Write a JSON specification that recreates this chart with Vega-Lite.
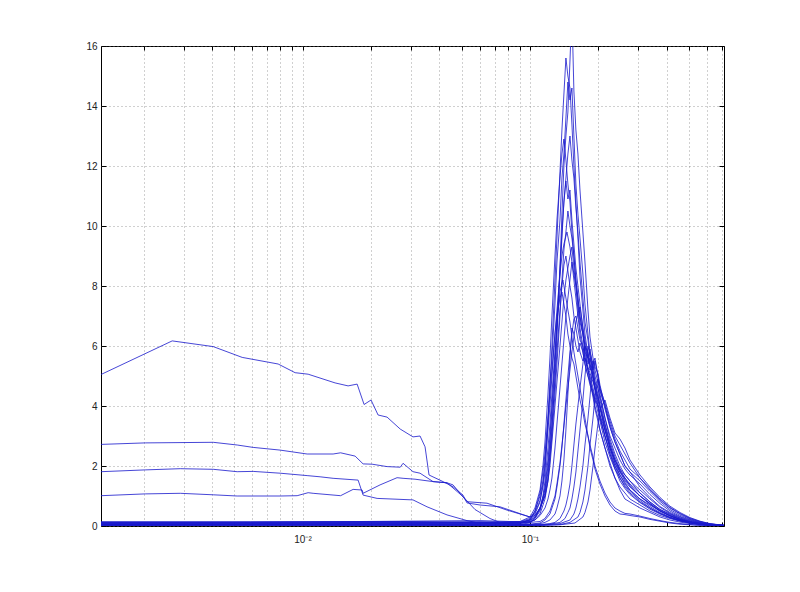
{
"$schema":"https://vega.github.io/schema/vega-lite/v6.json",
"width":623,"height":480,
"autosize":{"type":"none"},
"padding":{"left":101,"top":46,"right":76,"bottom":66},
"background":"white",
"config":{"view":{"stroke":"#000","strokeWidth":1},
"axis":{"labelFont":"Liberation Sans","labelFontSize":10,"labelColor":"#222","domain":false,"tickColor":"#000","tickWidth":1,"gridColor":"#777","gridDash":[1,3],"gridOpacity":0.7,"gridWidth":1}},
"data":{"values":[
{"s":1,"x":0.0013,"y":0.12},{"s":1,"x":0.00589,"y":0.13},{"s":1,"x":0.0269,"y":0.14},{"s":1,"x":0.0603,"y":0.1},{"s":1,"x":0.0904,"y":0.12},{"s":1,"x":0.1,"y":0.2},{"s":1,"x":0.1052,"y":0.35},{"s":1,"x":0.1107,"y":0.6},{"s":1,"x":0.1164,"y":1.0},{"s":1,"x":0.12,"y":1.6},{"s":1,"x":0.1249,"y":3.2},{"s":1,"x":0.1288,"y":5.0},{"s":1,"x":0.1314,"y":6.3},{"s":1,"x":0.1355,"y":8.6},{"s":1,"x":0.1382,"y":10.4},{"s":1,"x":0.141,"y":12.0},{"s":1,"x":0.1439,"y":13.0},{"s":1,"x":0.1468,"y":13.8},{"s":1,"x":0.1499,"y":15.5},{"s":1,"x":0.1529,"y":17.2},{"s":1,"x":0.156,"y":14.5},{"s":1,"x":0.1592,"y":13.2},{"s":1,"x":0.1625,"y":12.4},{"s":1,"x":0.1659,"y":11.2},{"s":1,"x":0.1709,"y":9.8},{"s":1,"x":0.1745,"y":8.8},{"s":1,"x":0.1799,"y":7.2},{"s":1,"x":0.1836,"y":6.3},{"s":1,"x":0.1893,"y":5.6},{"s":1,"x":0.1931,"y":5.3},{"s":1,"x":0.199,"y":5.1},{"s":1,"x":0.2031,"y":4.7},{"s":1,"x":0.2137,"y":4.0},{"s":1,"x":0.2248,"y":3.3},{"s":1,"x":0.2364,"y":2.8},{"s":1,"x":0.2487,"y":2.4},{"s":1,"x":0.2616,"y":2.0},{"s":1,"x":0.2752,"y":1.8},{"s":1,"x":0.3046,"y":1.3},{"s":1,"x":0.337,"y":0.95},{"s":1,"x":0.373,"y":0.65},{"s":1,"x":0.4127,"y":0.45},{"s":1,"x":0.4567,"y":0.3},{"s":1,"x":0.5054,"y":0.18},{"s":1,"x":0.5592,"y":0.1},{"s":1,"x":0.6188,"y":0.05},{"s":1,"x":0.713,"y":0.02},
{"s":2,"x":0.0013,"y":0.1},{"s":2,"x":0.00589,"y":0.09},{"s":2,"x":0.0269,"y":0.11},{"s":2,"x":0.0603,"y":0.13},{"s":2,"x":0.0904,"y":0.1},{"s":2,"x":0.1,"y":0.22},{"s":2,"x":0.1052,"y":0.45},{"s":2,"x":0.1107,"y":0.85},{"s":2,"x":0.114,"y":1.3},{"s":2,"x":0.1164,"y":1.8},{"s":2,"x":0.12,"y":3.4},{"s":2,"x":0.1224,"y":4.6},{"s":2,"x":0.1249,"y":6.0},{"s":2,"x":0.1288,"y":8.2},{"s":2,"x":0.1314,"y":9.6},{"s":2,"x":0.1355,"y":11.8},{"s":2,"x":0.1382,"y":13.2},{"s":2,"x":0.141,"y":14.4},{"s":2,"x":0.1439,"y":15.6},{"s":2,"x":0.1468,"y":15.0},{"s":2,"x":0.1499,"y":14.6},{"s":2,"x":0.1529,"y":13.4},{"s":2,"x":0.156,"y":12.0},{"s":2,"x":0.1592,"y":10.8},{"s":2,"x":0.1625,"y":9.6},{"s":2,"x":0.1659,"y":8.3},{"s":2,"x":0.1709,"y":7.2},{"s":2,"x":0.1745,"y":6.4},{"s":2,"x":0.1799,"y":5.7},{"s":2,"x":0.1836,"y":5.3},{"s":2,"x":0.1893,"y":4.9},{"s":2,"x":0.1931,"y":4.5},{"s":2,"x":0.199,"y":4.0},{"s":2,"x":0.2031,"y":3.6},{"s":2,"x":0.2137,"y":3.0},{"s":2,"x":0.2248,"y":2.4},{"s":2,"x":0.2364,"y":2.0},{"s":2,"x":0.2487,"y":1.7},{"s":2,"x":0.2752,"y":1.2},{"s":2,"x":0.3046,"y":0.9},{"s":2,"x":0.337,"y":0.7},{"s":2,"x":0.373,"y":0.5},{"s":2,"x":0.4127,"y":0.35},{"s":2,"x":0.4567,"y":0.22},{"s":2,"x":0.5054,"y":0.13},{"s":2,"x":0.5592,"y":0.08},{"s":2,"x":0.6188,"y":0.04},{"s":2,"x":0.713,"y":0.01},
{"s":3,"x":0.0013,"y":0.08},{"s":3,"x":0.00589,"y":0.08},{"s":3,"x":0.0269,"y":0.1},{"s":3,"x":0.0603,"y":0.12},{"s":3,"x":0.0904,"y":0.14},{"s":3,"x":0.1,"y":0.25},{"s":3,"x":0.1052,"y":0.5},{"s":3,"x":0.1107,"y":1.0},{"s":3,"x":0.114,"y":1.5},{"s":3,"x":0.1164,"y":2.2},{"s":3,"x":0.12,"y":3.6},{"s":3,"x":0.1224,"y":4.8},{"s":3,"x":0.1249,"y":5.6},{"s":3,"x":0.1288,"y":7.4},{"s":3,"x":0.1314,"y":8.8},{"s":3,"x":0.1355,"y":10.2},{"s":3,"x":0.1382,"y":11.6},{"s":3,"x":0.141,"y":12.4},{"s":3,"x":0.1439,"y":13.6},{"s":3,"x":0.1468,"y":14.8},{"s":3,"x":0.1499,"y":14.2},{"s":3,"x":0.1529,"y":14.6},{"s":3,"x":0.156,"y":13.0},{"s":3,"x":0.1592,"y":11.4},{"s":3,"x":0.1625,"y":10.4},{"s":3,"x":0.1659,"y":9.6},{"s":3,"x":0.1709,"y":8.4},{"s":3,"x":0.1745,"y":7.4},{"s":3,"x":0.1799,"y":6.4},{"s":3,"x":0.1836,"y":5.8},{"s":3,"x":0.1893,"y":5.4},{"s":3,"x":0.1931,"y":5.6},{"s":3,"x":0.199,"y":5.0},{"s":3,"x":0.2031,"y":4.4},{"s":3,"x":0.2137,"y":3.6},{"s":3,"x":0.2248,"y":2.9},{"s":3,"x":0.2364,"y":2.4},{"s":3,"x":0.2487,"y":2.0},{"s":3,"x":0.2616,"y":1.7},{"s":3,"x":0.2752,"y":1.5},{"s":3,"x":0.3046,"y":1.1},{"s":3,"x":0.337,"y":0.8},{"s":3,"x":0.373,"y":0.55},{"s":3,"x":0.4127,"y":0.4},{"s":3,"x":0.4567,"y":0.26},{"s":3,"x":0.5054,"y":0.15},{"s":3,"x":0.5592,"y":0.09},{"s":3,"x":0.6188,"y":0.05},{"s":3,"x":0.713,"y":0.02},
{"s":4,"x":0.0013,"y":0.06},{"s":4,"x":0.00589,"y":0.07},{"s":4,"x":0.0269,"y":0.08},{"s":4,"x":0.0603,"y":0.09},{"s":4,"x":0.0904,"y":0.1},{"s":4,"x":0.1,"y":0.15},{"s":4,"x":0.1052,"y":0.3},{"s":4,"x":0.1107,"y":0.6},{"s":4,"x":0.1164,"y":1.2},{"s":4,"x":0.12,"y":2.0},{"s":4,"x":0.1224,"y":2.8},{"s":4,"x":0.1249,"y":3.8},{"s":4,"x":0.1288,"y":5.4},{"s":4,"x":0.1314,"y":6.6},{"s":4,"x":0.1355,"y":8.4},{"s":4,"x":0.1382,"y":9.6},{"s":4,"x":0.141,"y":10.8},{"s":4,"x":0.1439,"y":11.6},{"s":4,"x":0.1468,"y":12.4},{"s":4,"x":0.1499,"y":13.0},{"s":4,"x":0.1529,"y":12.2},{"s":4,"x":0.156,"y":11.6},{"s":4,"x":0.1592,"y":10.6},{"s":4,"x":0.1625,"y":9.8},{"s":4,"x":0.1659,"y":8.8},{"s":4,"x":0.1709,"y":7.6},{"s":4,"x":0.1745,"y":6.8},{"s":4,"x":0.1799,"y":6.2},{"s":4,"x":0.1836,"y":5.6},{"s":4,"x":0.1893,"y":5.2},{"s":4,"x":0.1931,"y":4.8},{"s":4,"x":0.199,"y":4.6},{"s":4,"x":0.2031,"y":4.2},{"s":4,"x":0.2137,"y":3.4},{"s":4,"x":0.2248,"y":2.7},{"s":4,"x":0.2364,"y":2.2},{"s":4,"x":0.2487,"y":1.8},{"s":4,"x":0.2616,"y":1.6},{"s":4,"x":0.2752,"y":1.35},{"s":4,"x":0.3046,"y":1.0},{"s":4,"x":0.337,"y":0.75},{"s":4,"x":0.373,"y":0.5},{"s":4,"x":0.4127,"y":0.33},{"s":4,"x":0.4567,"y":0.2},{"s":4,"x":0.5054,"y":0.12},{"s":4,"x":0.5592,"y":0.07},{"s":4,"x":0.6188,"y":0.04},{"s":4,"x":0.713,"y":0.01},
{"s":5,"x":0.0013,"y":0.11},{"s":5,"x":0.00589,"y":0.12},{"s":5,"x":0.0269,"y":0.13},{"s":5,"x":0.0603,"y":0.11},{"s":5,"x":0.0904,"y":0.15},{"s":5,"x":0.1,"y":0.3},{"s":5,"x":0.1052,"y":0.6},{"s":5,"x":0.1107,"y":1.2},{"s":5,"x":0.114,"y":2.0},{"s":5,"x":0.1164,"y":2.8},{"s":5,"x":0.12,"y":4.4},{"s":5,"x":0.1224,"y":5.6},{"s":5,"x":0.1249,"y":7.0},{"s":5,"x":0.1288,"y":9.0},{"s":5,"x":0.1314,"y":10.2},{"s":5,"x":0.1355,"y":11.6},{"s":5,"x":0.1382,"y":12.4},{"s":5,"x":0.141,"y":12.9},{"s":5,"x":0.1439,"y":12.2},{"s":5,"x":0.1468,"y":11.4},{"s":5,"x":0.1499,"y":10.8},{"s":5,"x":0.1529,"y":9.8},{"s":5,"x":0.156,"y":9.0},{"s":5,"x":0.1592,"y":8.2},{"s":5,"x":0.1625,"y":7.6},{"s":5,"x":0.1659,"y":7.0},{"s":5,"x":0.1709,"y":6.4},{"s":5,"x":0.1745,"y":5.8},{"s":5,"x":0.1799,"y":5.2},{"s":5,"x":0.1836,"y":4.9},{"s":5,"x":0.1893,"y":4.4},{"s":5,"x":0.1931,"y":4.0},{"s":5,"x":0.199,"y":3.6},{"s":5,"x":0.2031,"y":3.2},{"s":5,"x":0.2137,"y":2.6},{"s":5,"x":0.2248,"y":2.1},{"s":5,"x":0.2364,"y":1.6},{"s":5,"x":0.2487,"y":1.3},{"s":5,"x":0.2616,"y":1.1},{"s":5,"x":0.2752,"y":0.9},{"s":5,"x":0.3046,"y":0.7},{"s":5,"x":0.337,"y":0.5},{"s":5,"x":0.373,"y":0.35},{"s":5,"x":0.4127,"y":0.25},{"s":5,"x":0.4567,"y":0.16},{"s":5,"x":0.5054,"y":0.1},{"s":5,"x":0.5592,"y":0.06},{"s":5,"x":0.6188,"y":0.03},{"s":5,"x":0.713,"y":0.01},
{"s":6,"x":0.0013,"y":0.05},{"s":6,"x":0.00589,"y":0.05},{"s":6,"x":0.0269,"y":0.06},{"s":6,"x":0.0603,"y":0.08},{"s":6,"x":0.0904,"y":0.09},{"s":6,"x":0.1,"y":0.12},{"s":6,"x":0.1052,"y":0.25},{"s":6,"x":0.1107,"y":0.5},{"s":6,"x":0.114,"y":0.9},{"s":6,"x":0.1164,"y":1.3},{"s":6,"x":0.12,"y":2.2},{"s":6,"x":0.1224,"y":3.0},{"s":6,"x":0.1249,"y":4.0},{"s":6,"x":0.1288,"y":5.6},{"s":6,"x":0.1314,"y":6.8},{"s":6,"x":0.1355,"y":8.6},{"s":6,"x":0.1382,"y":9.8},{"s":6,"x":0.141,"y":10.8},{"s":6,"x":0.1439,"y":11.5},{"s":6,"x":0.1468,"y":10.9},{"s":6,"x":0.1499,"y":11.2},{"s":6,"x":0.1529,"y":10.2},{"s":6,"x":0.156,"y":9.4},{"s":6,"x":0.1592,"y":8.6},{"s":6,"x":0.1625,"y":8.0},{"s":6,"x":0.1659,"y":7.4},{"s":6,"x":0.1709,"y":6.6},{"s":6,"x":0.1745,"y":6.2},{"s":6,"x":0.1799,"y":5.6},{"s":6,"x":0.1836,"y":5.4},{"s":6,"x":0.1893,"y":5.0},{"s":6,"x":0.1931,"y":4.6},{"s":6,"x":0.199,"y":4.1},{"s":6,"x":0.2031,"y":3.7},{"s":6,"x":0.2137,"y":3.0},{"s":6,"x":0.2248,"y":2.4},{"s":6,"x":0.2364,"y":1.9},{"s":6,"x":0.2487,"y":1.6},{"s":6,"x":0.2616,"y":1.3},{"s":6,"x":0.2752,"y":1.1},{"s":6,"x":0.3046,"y":0.8},{"s":6,"x":0.337,"y":0.6},{"s":6,"x":0.373,"y":0.42},{"s":6,"x":0.4127,"y":0.28},{"s":6,"x":0.4567,"y":0.18},{"s":6,"x":0.5054,"y":0.11},{"s":6,"x":0.5592,"y":0.06},{"s":6,"x":0.6188,"y":0.03},{"s":6,"x":0.713,"y":0.01},
{"s":7,"x":0.0013,"y":0.14},{"s":7,"x":0.00589,"y":0.14},{"s":7,"x":0.0269,"y":0.15},{"s":7,"x":0.0603,"y":0.12},{"s":7,"x":0.0904,"y":0.1},{"s":7,"x":0.1,"y":0.14},{"s":7,"x":0.1052,"y":0.2},{"s":7,"x":0.1107,"y":0.4},{"s":7,"x":0.1164,"y":0.9},{"s":7,"x":0.12,"y":1.5},{"s":7,"x":0.1224,"y":2.2},{"s":7,"x":0.1249,"y":3.0},{"s":7,"x":0.1288,"y":4.4},{"s":7,"x":0.1314,"y":5.4},{"s":7,"x":0.1355,"y":7.0},{"s":7,"x":0.1382,"y":8.2},{"s":7,"x":0.141,"y":9.2},{"s":7,"x":0.1439,"y":9.8},{"s":7,"x":0.1468,"y":10.5},{"s":7,"x":0.1499,"y":10.0},{"s":7,"x":0.1529,"y":9.6},{"s":7,"x":0.156,"y":9.0},{"s":7,"x":0.1592,"y":8.2},{"s":7,"x":0.1625,"y":7.6},{"s":7,"x":0.1659,"y":7.0},{"s":7,"x":0.1709,"y":6.4},{"s":7,"x":0.1745,"y":5.8},{"s":7,"x":0.1799,"y":5.6},{"s":7,"x":0.1836,"y":5.9},{"s":7,"x":0.1893,"y":5.2},{"s":7,"x":0.1931,"y":4.8},{"s":7,"x":0.199,"y":4.4},{"s":7,"x":0.2031,"y":4.0},{"s":7,"x":0.2137,"y":3.2},{"s":7,"x":0.2248,"y":2.6},{"s":7,"x":0.2364,"y":2.1},{"s":7,"x":0.2487,"y":1.8},{"s":7,"x":0.2616,"y":1.5},{"s":7,"x":0.2752,"y":1.3},{"s":7,"x":0.3046,"y":1.0},{"s":7,"x":0.337,"y":0.72},{"s":7,"x":0.373,"y":0.5},{"s":7,"x":0.4127,"y":0.34},{"s":7,"x":0.4567,"y":0.22},{"s":7,"x":0.5054,"y":0.13},{"s":7,"x":0.5592,"y":0.07},{"s":7,"x":0.6188,"y":0.04},{"s":7,"x":0.713,"y":0.01},
{"s":8,"x":0.0013,"y":5.05},{"s":8,"x":0.002673,"y":6.17},{"s":8,"x":0.004049,"y":5.98},{"s":8,"x":0.005428,"y":5.62},{"s":8,"x":0.007812,"y":5.4},{"s":8,"x":0.009279,"y":5.11},{"s":8,"x":0.010583,"y":5.06},{"s":8,"x":0.0139,"y":4.77},{"s":8,"x":0.01586,"y":4.67},{"s":8,"x":0.01738,"y":4.73},{"s":8,"x":0.01865,"y":4.05},{"s":8,"x":0.02001,"y":4.2},{"s":8,"x":0.02149,"y":3.7},{"s":8,"x":0.02353,"y":3.63},{"s":8,"x":0.0269,"y":3.23},{"s":8,"x":0.0306,"y":2.97},{"s":8,"x":0.03286,"y":3.0},{"s":8,"x":0.03457,"y":2.64},{"s":8,"x":0.03599,"y":1.7},{"s":8,"x":0.04147,"y":1.48},{"s":8,"x":0.04589,"y":1.31},{"s":8,"x":0.05077,"y":1.03},{"s":8,"x":0.05285,"y":0.77},{"s":8,"x":0.0603,"y":0.7},{"s":8,"x":0.0738,"y":0.64},{"s":8,"x":0.1,"y":0.3},{"s":8,"x":0.1052,"y":0.4},{"s":8,"x":0.1107,"y":0.8},{"s":8,"x":0.114,"y":1.4},{"s":8,"x":0.1164,"y":2.0},{"s":8,"x":0.12,"y":3.2},{"s":8,"x":0.1224,"y":4.0},{"s":8,"x":0.1249,"y":5.0},{"s":8,"x":0.1288,"y":6.4},{"s":8,"x":0.1314,"y":7.2},{"s":8,"x":0.1355,"y":8.4},{"s":8,"x":0.1382,"y":9.0},{"s":8,"x":0.141,"y":9.4},{"s":8,"x":0.1454,"y":9.8},{"s":8,"x":0.1499,"y":9.3},{"s":8,"x":0.1529,"y":8.8},{"s":8,"x":0.156,"y":8.2},{"s":8,"x":0.1592,"y":7.6},{"s":8,"x":0.1625,"y":7.0},{"s":8,"x":0.1659,"y":6.4},{"s":8,"x":0.1709,"y":5.8},{"s":8,"x":0.1745,"y":5.4},{"s":8,"x":0.1799,"y":5.0},{"s":8,"x":0.1836,"y":4.8},{"s":8,"x":0.1893,"y":4.3},{"s":8,"x":0.1931,"y":3.9},{"s":8,"x":0.199,"y":3.5},{"s":8,"x":0.2031,"y":3.2},{"s":8,"x":0.2137,"y":2.6},{"s":8,"x":0.2248,"y":2.0},{"s":8,"x":0.2364,"y":1.6},{"s":8,"x":0.2487,"y":1.2},{"s":8,"x":0.2616,"y":0.9},{"s":8,"x":0.2752,"y":0.8},{"s":8,"x":0.3046,"y":0.6},{"s":8,"x":0.337,"y":0.45},{"s":8,"x":0.373,"y":0.3},{"s":8,"x":0.4127,"y":0.2},{"s":8,"x":0.4567,"y":0.13},{"s":8,"x":0.5054,"y":0.08},{"s":8,"x":0.5592,"y":0.05},{"s":8,"x":0.6188,"y":0.03},{"s":8,"x":0.713,"y":0.01},
{"s":9,"x":0.0013,"y":2.72},{"s":9,"x":0.002034,"y":2.77},{"s":9,"x":0.004049,"y":2.79},{"s":9,"x":0.00516,"y":2.7},{"s":9,"x":0.006066,"y":2.62},{"s":9,"x":0.00797,"y":2.53},{"s":9,"x":0.010476,"y":2.4},{"s":9,"x":0.013628,"y":2.4},{"s":9,"x":0.0147,"y":2.44},{"s":9,"x":0.017027,"y":2.33},{"s":9,"x":0.018464,"y":2.07},{"s":9,"x":0.020221,"y":2.06},{"s":9,"x":0.02353,"y":1.98},{"s":9,"x":0.0269,"y":1.96},{"s":9,"x":0.027669,"y":2.09},{"s":9,"x":0.0306,"y":1.81},{"s":9,"x":0.03286,"y":1.76},{"s":9,"x":0.037487,"y":1.48},{"s":9,"x":0.043178,"y":1.44},{"s":9,"x":0.04589,"y":1.37},{"s":9,"x":0.0493,"y":1.09},{"s":9,"x":0.05285,"y":0.81},{"s":9,"x":0.064728,"y":0.76},{"s":9,"x":0.079227,"y":0.53},{"s":9,"x":0.1,"y":0.3},{"s":9,"x":0.1052,"y":0.35},{"s":9,"x":0.1107,"y":0.6},{"s":9,"x":0.1164,"y":1.0},{"s":9,"x":0.12,"y":1.5},{"s":9,"x":0.1224,"y":2.0},{"s":9,"x":0.1249,"y":2.8},{"s":9,"x":0.1288,"y":4.0},{"s":9,"x":0.1314,"y":4.8},{"s":9,"x":0.1355,"y":6.0},{"s":9,"x":0.1382,"y":6.8},{"s":9,"x":0.141,"y":7.6},{"s":9,"x":0.1439,"y":8.2},{"s":9,"x":0.1468,"y":8.6},{"s":9,"x":0.1499,"y":9.0},{"s":9,"x":0.1529,"y":9.3},{"s":9,"x":0.156,"y":8.6},{"s":9,"x":0.1592,"y":8.0},{"s":9,"x":0.1625,"y":7.4},{"s":9,"x":0.1659,"y":6.8},{"s":9,"x":0.1709,"y":6.4},{"s":9,"x":0.1745,"y":6.0},{"s":9,"x":0.1799,"y":5.8},{"s":9,"x":0.1836,"y":5.4},{"s":9,"x":0.1893,"y":5.0},{"s":9,"x":0.1931,"y":4.6},{"s":9,"x":0.199,"y":4.2},{"s":9,"x":0.2031,"y":3.9},{"s":9,"x":0.2137,"y":3.2},{"s":9,"x":0.2248,"y":2.6},{"s":9,"x":0.2364,"y":2.1},{"s":9,"x":0.2487,"y":1.7},{"s":9,"x":0.2616,"y":1.4},{"s":9,"x":0.2752,"y":1.2},{"s":9,"x":0.3046,"y":0.9},{"s":9,"x":0.337,"y":0.65},{"s":9,"x":0.373,"y":0.45},{"s":9,"x":0.4127,"y":0.3},{"s":9,"x":0.4567,"y":0.19},{"s":9,"x":0.5054,"y":0.11},{"s":9,"x":0.5592,"y":0.06},{"s":9,"x":0.6188,"y":0.03},{"s":9,"x":0.713,"y":0.01},
{"s":10,"x":0.0013,"y":1.81},{"s":10,"x":0.002034,"y":1.87},{"s":10,"x":0.0029,"y":1.91},{"s":10,"x":0.004049,"y":1.89},{"s":10,"x":0.00516,"y":1.81},{"s":10,"x":0.006066,"y":1.82},{"s":10,"x":0.00797,"y":1.76},{"s":10,"x":0.010476,"y":1.68},{"s":10,"x":0.011946,"y":1.64},{"s":10,"x":0.013628,"y":1.59},{"s":10,"x":0.017553,"y":1.53},{"s":10,"x":0.018464,"y":1.03},{"s":10,"x":0.02127,"y":0.92},{"s":10,"x":0.0306,"y":0.87},{"s":10,"x":0.03527,"y":0.64},{"s":10,"x":0.043178,"y":0.37},{"s":10,"x":0.05285,"y":0.18},{"s":10,"x":0.0585,"y":0.11},{"s":10,"x":0.0738,"y":0.08},{"s":10,"x":0.0904,"y":0.1},{"s":10,"x":0.1,"y":0.15},{"s":10,"x":0.1052,"y":0.2},{"s":10,"x":0.1107,"y":0.35},{"s":10,"x":0.1164,"y":0.6},{"s":10,"x":0.12,"y":0.9},{"s":10,"x":0.1224,"y":1.2},{"s":10,"x":0.1249,"y":1.6},{"s":10,"x":0.1288,"y":2.6},{"s":10,"x":0.1314,"y":3.4},{"s":10,"x":0.1355,"y":4.6},{"s":10,"x":0.1382,"y":5.4},{"s":10,"x":0.141,"y":6.2},{"s":10,"x":0.1439,"y":7.0},{"s":10,"x":0.1468,"y":7.6},{"s":10,"x":0.1499,"y":8.2},{"s":10,"x":0.1529,"y":8.8},{"s":10,"x":0.156,"y":8.4},{"s":10,"x":0.1592,"y":8.0},{"s":10,"x":0.1625,"y":7.2},{"s":10,"x":0.1659,"y":6.6},{"s":10,"x":0.1709,"y":6.0},{"s":10,"x":0.1745,"y":5.6},{"s":10,"x":0.1799,"y":5.2},{"s":10,"x":0.1836,"y":5.0},{"s":10,"x":0.1893,"y":4.6},{"s":10,"x":0.1931,"y":4.3},{"s":10,"x":0.199,"y":4.0},{"s":10,"x":0.2031,"y":3.6},{"s":10,"x":0.2137,"y":3.0},{"s":10,"x":0.2248,"y":2.5},{"s":10,"x":0.2364,"y":2.0},{"s":10,"x":0.2487,"y":1.6},{"s":10,"x":0.2616,"y":1.35},{"s":10,"x":0.2752,"y":1.15},{"s":10,"x":0.3046,"y":0.85},{"s":10,"x":0.337,"y":0.6},{"s":10,"x":0.373,"y":0.42},{"s":10,"x":0.4127,"y":0.28},{"s":10,"x":0.4567,"y":0.18},{"s":10,"x":0.5054,"y":0.1},{"s":10,"x":0.5592,"y":0.06},{"s":10,"x":0.6188,"y":0.03},{"s":10,"x":0.713,"y":0.01},
{"s":11,"x":0.0013,"y":1.01},{"s":11,"x":0.002034,"y":1.07},{"s":11,"x":0.0029,"y":1.09},{"s":11,"x":0.004049,"y":1.04},{"s":11,"x":0.00516,"y":1.0},{"s":11,"x":0.00797,"y":1.0},{"s":11,"x":0.009469,"y":1.01},{"s":11,"x":0.010583,"y":1.11},{"s":11,"x":0.011132,"y":1.09},{"s":11,"x":0.0147,"y":1.01},{"s":11,"x":0.016686,"y":1.22},{"s":11,"x":0.018273,"y":1.2},{"s":11,"x":0.018464,"y":1.09},{"s":11,"x":0.02192,"y":1.37},{"s":11,"x":0.02604,"y":1.61},{"s":11,"x":0.027669,"y":1.59},{"s":11,"x":0.03124,"y":1.56},{"s":11,"x":0.037487,"y":1.48},{"s":11,"x":0.043178,"y":1.44},{"s":11,"x":0.05077,"y":0.98},{"s":11,"x":0.05732,"y":0.55},{"s":11,"x":0.0667,"y":0.25},{"s":11,"x":0.07609,"y":0.08},{"s":11,"x":0.0904,"y":0.06},{"s":11,"x":0.1,"y":0.1},{"s":11,"x":0.1052,"y":0.25},{"s":11,"x":0.1107,"y":0.6},{"s":11,"x":0.114,"y":1.0},{"s":11,"x":0.1164,"y":1.5},{"s":11,"x":0.12,"y":2.6},{"s":11,"x":0.1224,"y":3.4},{"s":11,"x":0.1249,"y":4.4},{"s":11,"x":0.1288,"y":5.8},{"s":11,"x":0.1314,"y":6.8},{"s":11,"x":0.1355,"y":7.8},{"s":11,"x":0.1382,"y":8.1},{"s":11,"x":0.1396,"y":8.2},{"s":11,"x":0.1439,"y":7.6},{"s":11,"x":0.1468,"y":7.2},{"s":11,"x":0.1499,"y":6.8},{"s":11,"x":0.1529,"y":6.3},{"s":11,"x":0.156,"y":5.8},{"s":11,"x":0.1592,"y":5.4},{"s":11,"x":0.1625,"y":5.0},{"s":11,"x":0.1659,"y":4.6},{"s":11,"x":0.1709,"y":4.0},{"s":11,"x":0.1745,"y":3.6},{"s":11,"x":0.1799,"y":3.0},{"s":11,"x":0.1836,"y":2.6},{"s":11,"x":0.1893,"y":2.2},{"s":11,"x":0.1931,"y":1.9},{"s":11,"x":0.199,"y":1.6},{"s":11,"x":0.2031,"y":1.4},{"s":11,"x":0.2137,"y":1.0},{"s":11,"x":0.2248,"y":0.7},{"s":11,"x":0.2364,"y":0.5},{"s":11,"x":0.2487,"y":0.4},{"s":11,"x":0.2616,"y":0.38},{"s":11,"x":0.2752,"y":0.35},{"s":11,"x":0.3046,"y":0.3},{"s":11,"x":0.337,"y":0.22},{"s":11,"x":0.373,"y":0.16},{"s":11,"x":0.4127,"y":0.1},{"s":11,"x":0.4567,"y":0.06},{"s":11,"x":0.5054,"y":0.04},{"s":11,"x":0.5592,"y":0.02},{"s":11,"x":0.713,"y":0.01},
{"s":12,"x":0.0013,"y":0.04},{"s":12,"x":0.00589,"y":0.05},{"s":12,"x":0.0269,"y":0.07},{"s":12,"x":0.0603,"y":0.08},{"s":12,"x":0.0904,"y":0.1},{"s":12,"x":0.1,"y":0.2},{"s":12,"x":0.1052,"y":0.5},{"s":12,"x":0.1107,"y":1.1},{"s":12,"x":0.114,"y":1.8},{"s":12,"x":0.1164,"y":2.4},{"s":12,"x":0.12,"y":3.6},{"s":12,"x":0.1224,"y":4.4},{"s":12,"x":0.1249,"y":5.2},{"s":12,"x":0.1288,"y":6.4},{"s":12,"x":0.1314,"y":7.0},{"s":12,"x":0.1355,"y":7.6},{"s":12,"x":0.1382,"y":7.8},{"s":12,"x":0.141,"y":7.4},{"s":12,"x":0.1439,"y":7.0},{"s":12,"x":0.1468,"y":6.4},{"s":12,"x":0.1499,"y":6.0},{"s":12,"x":0.1529,"y":5.6},{"s":12,"x":0.156,"y":5.4},{"s":12,"x":0.1592,"y":5.0},{"s":12,"x":0.1625,"y":4.6},{"s":12,"x":0.1659,"y":4.2},{"s":12,"x":0.1709,"y":3.8},{"s":12,"x":0.1745,"y":3.4},{"s":12,"x":0.1799,"y":3.0},{"s":12,"x":0.1836,"y":2.7},{"s":12,"x":0.1893,"y":2.3},{"s":12,"x":0.1931,"y":2.0},{"s":12,"x":0.199,"y":1.7},{"s":12,"x":0.2031,"y":1.5},{"s":12,"x":0.2137,"y":1.1},{"s":12,"x":0.2248,"y":0.8},{"s":12,"x":0.2364,"y":0.6},{"s":12,"x":0.2487,"y":0.5},{"s":12,"x":0.2616,"y":0.42},{"s":12,"x":0.2752,"y":0.4},{"s":12,"x":0.3046,"y":0.33},{"s":12,"x":0.337,"y":0.25},{"s":12,"x":0.373,"y":0.18},{"s":12,"x":0.4127,"y":0.12},{"s":12,"x":0.4567,"y":0.08},{"s":12,"x":0.5054,"y":0.05},{"s":12,"x":0.5592,"y":0.03},{"s":12,"x":0.713,"y":0.01},
{"s":13,"x":0.0013,"y":0.09},{"s":13,"x":0.00589,"y":0.1},{"s":13,"x":0.0269,"y":0.09},{"s":13,"x":0.0603,"y":0.06},{"s":13,"x":0.0904,"y":0.05},{"s":13,"x":0.1,"y":0.06},{"s":13,"x":0.1107,"y":0.1},{"s":13,"x":0.1164,"y":0.2},{"s":13,"x":0.1224,"y":0.4},{"s":13,"x":0.1288,"y":0.9},{"s":13,"x":0.1314,"y":1.3},{"s":13,"x":0.1355,"y":2.0},{"s":13,"x":0.1382,"y":2.6},{"s":13,"x":0.141,"y":3.4},{"s":13,"x":0.1439,"y":4.2},{"s":13,"x":0.1468,"y":5.0},{"s":13,"x":0.1499,"y":5.8},{"s":13,"x":0.1529,"y":6.4},{"s":13,"x":0.156,"y":6.9},{"s":13,"x":0.1592,"y":7.0},{"s":13,"x":0.1625,"y":6.6},{"s":13,"x":0.1659,"y":6.2},{"s":13,"x":0.1709,"y":6.0},{"s":13,"x":0.1745,"y":5.6},{"s":13,"x":0.1799,"y":5.3},{"s":13,"x":0.1836,"y":5.1},{"s":13,"x":0.1893,"y":4.8},{"s":13,"x":0.1931,"y":4.6},{"s":13,"x":0.199,"y":4.3},{"s":13,"x":0.2031,"y":4.0},{"s":13,"x":0.2137,"y":3.4},{"s":13,"x":0.2248,"y":2.8},{"s":13,"x":0.2364,"y":2.3},{"s":13,"x":0.2487,"y":1.9},{"s":13,"x":0.2616,"y":1.6},{"s":13,"x":0.2752,"y":1.4},{"s":13,"x":0.3046,"y":1.1},{"s":13,"x":0.337,"y":0.8},{"s":13,"x":0.373,"y":0.55},{"s":13,"x":0.4127,"y":0.38},{"s":13,"x":0.4567,"y":0.24},{"s":13,"x":0.5054,"y":0.14},{"s":13,"x":0.5592,"y":0.08},{"s":13,"x":0.6188,"y":0.04},{"s":13,"x":0.713,"y":0.02},
{"s":14,"x":0.0013,"y":0.07},{"s":14,"x":0.00589,"y":0.06},{"s":14,"x":0.0269,"y":0.05},{"s":14,"x":0.0603,"y":0.05},{"s":14,"x":0.0904,"y":0.04},{"s":14,"x":0.1,"y":0.05},{"s":14,"x":0.1107,"y":0.08},{"s":14,"x":0.1164,"y":0.12},{"s":14,"x":0.1224,"y":0.2},{"s":14,"x":0.1288,"y":0.4},{"s":14,"x":0.1314,"y":0.6},{"s":14,"x":0.1355,"y":1.0},{"s":14,"x":0.1382,"y":1.5},{"s":14,"x":0.141,"y":2.2},{"s":14,"x":0.1439,"y":3.2},{"s":14,"x":0.1468,"y":4.4},{"s":14,"x":0.1499,"y":5.6},{"s":14,"x":0.1529,"y":6.6},{"s":14,"x":0.156,"y":6.4},{"s":14,"x":0.1592,"y":6.0},{"s":14,"x":0.1625,"y":5.8},{"s":14,"x":0.1659,"y":6.1},{"s":14,"x":0.1709,"y":5.8},{"s":14,"x":0.1745,"y":5.4},{"s":14,"x":0.1799,"y":5.0},{"s":14,"x":0.1836,"y":4.7},{"s":14,"x":0.1893,"y":4.4},{"s":14,"x":0.1931,"y":4.2},{"s":14,"x":0.199,"y":4.0},{"s":14,"x":0.2031,"y":3.7},{"s":14,"x":0.2137,"y":3.2},{"s":14,"x":0.2248,"y":2.6},{"s":14,"x":0.2364,"y":2.2},{"s":14,"x":0.2487,"y":1.9},{"s":14,"x":0.2616,"y":1.7},{"s":14,"x":0.2752,"y":1.5},{"s":14,"x":0.3046,"y":1.2},{"s":14,"x":0.337,"y":0.9},{"s":14,"x":0.373,"y":0.62},{"s":14,"x":0.4127,"y":0.42},{"s":14,"x":0.4567,"y":0.27},{"s":14,"x":0.5054,"y":0.16},{"s":14,"x":0.5592,"y":0.09},{"s":14,"x":0.6188,"y":0.05},{"s":14,"x":0.713,"y":0.02},
{"s":15,"x":0.0013,"y":0.06},{"s":15,"x":0.00589,"y":0.07},{"s":15,"x":0.0269,"y":0.06},{"s":15,"x":0.0603,"y":0.04},{"s":15,"x":0.0904,"y":0.04},{"s":15,"x":0.1107,"y":0.05},{"s":15,"x":0.1224,"y":0.08},{"s":15,"x":0.1288,"y":0.12},{"s":15,"x":0.1355,"y":0.25},{"s":15,"x":0.141,"y":0.5},{"s":15,"x":0.1439,"y":0.7},{"s":15,"x":0.1468,"y":1.0},{"s":15,"x":0.1499,"y":1.4},{"s":15,"x":0.1529,"y":2.0},{"s":15,"x":0.156,"y":2.7},{"s":15,"x":0.1592,"y":3.4},{"s":15,"x":0.1625,"y":4.0},{"s":15,"x":0.1659,"y":4.6},{"s":15,"x":0.1709,"y":5.4},{"s":15,"x":0.1745,"y":6.0},{"s":15,"x":0.1799,"y":5.6},{"s":15,"x":0.1836,"y":5.2},{"s":15,"x":0.1893,"y":5.4},{"s":15,"x":0.1931,"y":5.0},{"s":15,"x":0.199,"y":4.6},{"s":15,"x":0.2031,"y":4.3},{"s":15,"x":0.2137,"y":3.6},{"s":15,"x":0.2248,"y":3.0},{"s":15,"x":0.2364,"y":2.6},{"s":15,"x":0.2487,"y":2.2},{"s":15,"x":0.2616,"y":1.9},{"s":15,"x":0.2752,"y":1.7},{"s":15,"x":0.3046,"y":1.4},{"s":15,"x":0.337,"y":1.05},{"s":15,"x":0.373,"y":0.75},{"s":15,"x":0.4127,"y":0.5},{"s":15,"x":0.4567,"y":0.32},{"s":15,"x":0.5054,"y":0.2},{"s":15,"x":0.5592,"y":0.11},{"s":15,"x":0.6188,"y":0.06},{"s":15,"x":0.713,"y":0.02},
{"s":16,"x":0.0013,"y":0.03},{"s":16,"x":0.00589,"y":0.04},{"s":16,"x":0.0269,"y":0.04},{"s":16,"x":0.0603,"y":0.03},{"s":16,"x":0.0904,"y":0.03},{"s":16,"x":0.1107,"y":0.04},{"s":16,"x":0.1224,"y":0.06},{"s":16,"x":0.1355,"y":0.12},{"s":16,"x":0.1425,"y":0.25},{"s":16,"x":0.1468,"y":0.45},{"s":16,"x":0.1499,"y":0.6},{"s":16,"x":0.1529,"y":0.9},{"s":16,"x":0.156,"y":1.3},{"s":16,"x":0.1592,"y":1.8},{"s":16,"x":0.1625,"y":2.5},{"s":16,"x":0.1659,"y":3.2},{"s":16,"x":0.1709,"y":4.2},{"s":16,"x":0.1745,"y":5.0},{"s":16,"x":0.1799,"y":6.0},{"s":16,"x":0.1836,"y":5.7},{"s":16,"x":0.1893,"y":5.2},{"s":16,"x":0.1931,"y":5.5},{"s":16,"x":0.199,"y":5.0},{"s":16,"x":0.2031,"y":4.6},{"s":16,"x":0.2137,"y":3.9},{"s":16,"x":0.2248,"y":3.3},{"s":16,"x":0.2364,"y":2.8},{"s":16,"x":0.2487,"y":2.4},{"s":16,"x":0.2616,"y":2.0},{"s":16,"x":0.2752,"y":1.8},{"s":16,"x":0.3046,"y":1.5},{"s":16,"x":0.337,"y":1.15},{"s":16,"x":0.373,"y":0.82},{"s":16,"x":0.4127,"y":0.55},{"s":16,"x":0.4567,"y":0.36},{"s":16,"x":0.5054,"y":0.22},{"s":16,"x":0.5592,"y":0.12},{"s":16,"x":0.6188,"y":0.06},{"s":16,"x":0.713,"y":0.02},
{"s":17,"x":0.0013,"y":0.02},{"s":17,"x":0.00589,"y":0.03},{"s":17,"x":0.0269,"y":0.03},{"s":17,"x":0.0603,"y":0.02},{"s":17,"x":0.0904,"y":0.02},{"s":17,"x":0.1107,"y":0.03},{"s":17,"x":0.1355,"y":0.08},{"s":17,"x":0.1499,"y":0.2},{"s":17,"x":0.156,"y":0.4},{"s":17,"x":0.1592,"y":0.6},{"s":17,"x":0.1625,"y":0.9},{"s":17,"x":0.1659,"y":1.3},{"s":17,"x":0.1709,"y":2.0},{"s":17,"x":0.1745,"y":2.7},{"s":17,"x":0.1799,"y":3.6},{"s":17,"x":0.1836,"y":4.3},{"s":17,"x":0.1893,"y":5.5},{"s":17,"x":0.1931,"y":5.2},{"s":17,"x":0.199,"y":4.8},{"s":17,"x":0.2031,"y":4.5},{"s":17,"x":0.2137,"y":4.0},{"s":17,"x":0.2248,"y":3.4},{"s":17,"x":0.2364,"y":2.9},{"s":17,"x":0.2487,"y":2.5},{"s":17,"x":0.2616,"y":2.2},{"s":17,"x":0.2752,"y":1.9},{"s":17,"x":0.3046,"y":1.6},{"s":17,"x":0.337,"y":1.2},{"s":17,"x":0.373,"y":0.87},{"s":17,"x":0.4127,"y":0.6},{"s":17,"x":0.4567,"y":0.4},{"s":17,"x":0.5054,"y":0.24},{"s":17,"x":0.5592,"y":0.14},{"s":17,"x":0.6188,"y":0.07},{"s":17,"x":0.713,"y":0.02},
{"s":18,"x":0.0013,"y":0.02},{"s":18,"x":0.0269,"y":0.02},{"s":18,"x":0.0904,"y":0.02},{"s":18,"x":0.1107,"y":0.02},{"s":18,"x":0.1355,"y":0.05},{"s":18,"x":0.1499,"y":0.12},{"s":18,"x":0.1625,"y":0.3},{"s":18,"x":0.1659,"y":0.45},{"s":18,"x":0.1709,"y":0.8},{"s":18,"x":0.1745,"y":1.2},{"s":18,"x":0.1799,"y":2.0},{"s":18,"x":0.1836,"y":2.7},{"s":18,"x":0.1893,"y":3.6},{"s":18,"x":0.1931,"y":4.3},{"s":18,"x":0.199,"y":4.9},{"s":18,"x":0.2031,"y":4.6},{"s":18,"x":0.2137,"y":4.1},{"s":18,"x":0.2248,"y":3.5},{"s":18,"x":0.2364,"y":3.0},{"s":18,"x":0.2487,"y":2.7},{"s":18,"x":0.2616,"y":2.4},{"s":18,"x":0.2752,"y":2.1},{"s":18,"x":0.3046,"y":1.6},{"s":18,"x":0.337,"y":1.25},{"s":18,"x":0.373,"y":0.9},{"s":18,"x":0.4127,"y":0.62},{"s":18,"x":0.4567,"y":0.42},{"s":18,"x":0.5054,"y":0.26},{"s":18,"x":0.5592,"y":0.15},{"s":18,"x":0.6188,"y":0.07},{"s":18,"x":0.713,"y":0.02},
{"s":19,"x":0.0013,"y":0.02},{"s":19,"x":0.0269,"y":0.02},{"s":19,"x":0.0904,"y":0.02},{"s":19,"x":0.1107,"y":0.02},{"s":19,"x":0.1355,"y":0.04},{"s":19,"x":0.1577,"y":0.1},{"s":19,"x":0.1709,"y":0.3},{"s":19,"x":0.1745,"y":0.45},{"s":19,"x":0.1799,"y":0.8},{"s":19,"x":0.1836,"y":1.2},{"s":19,"x":0.1893,"y":2.0},{"s":19,"x":0.1931,"y":2.6},{"s":19,"x":0.199,"y":3.4},{"s":19,"x":0.2031,"y":3.9},{"s":19,"x":0.2137,"y":4.2},{"s":19,"x":0.2248,"y":3.6},{"s":19,"x":0.2364,"y":3.1},{"s":19,"x":0.2487,"y":2.9},{"s":19,"x":0.2616,"y":2.6},{"s":19,"x":0.2752,"y":2.2},{"s":19,"x":0.3046,"y":1.7},{"s":19,"x":0.337,"y":1.3},{"s":19,"x":0.373,"y":0.95},{"s":19,"x":0.4127,"y":0.66},{"s":19,"x":0.4567,"y":0.45},{"s":19,"x":0.5054,"y":0.28},{"s":19,"x":0.5592,"y":0.16},{"s":19,"x":0.6188,"y":0.08},{"s":19,"x":0.713,"y":0.02},
{"s":20,"x":0.0013,"y":0.13},{"s":20,"x":0.00589,"y":0.12},{"s":20,"x":0.0269,"y":0.16},{"s":20,"x":0.0603,"y":0.18},{"s":20,"x":0.0904,"y":0.14},{"s":20,"x":0.1,"y":0.12},{"s":20,"x":0.1107,"y":0.15},{"s":20,"x":0.1164,"y":0.25},{"s":20,"x":0.1224,"y":0.5},{"s":20,"x":0.1288,"y":1.0},{"s":20,"x":0.1314,"y":1.4},{"s":20,"x":0.1355,"y":2.1},{"s":20,"x":0.1382,"y":2.7},{"s":20,"x":0.141,"y":3.3},{"s":20,"x":0.1439,"y":4.0},{"s":20,"x":0.1468,"y":4.6},{"s":20,"x":0.1499,"y":5.2},{"s":20,"x":0.1529,"y":5.8},{"s":20,"x":0.156,"y":6.3},{"s":20,"x":0.1592,"y":6.8},{"s":20,"x":0.1625,"y":7.1},{"s":20,"x":0.1659,"y":7.3},{"s":20,"x":0.1709,"y":6.6},{"s":20,"x":0.1745,"y":6.0},{"s":20,"x":0.1799,"y":5.4},{"s":20,"x":0.1836,"y":5.6},{"s":20,"x":0.1893,"y":5.0},{"s":20,"x":0.1931,"y":4.7},{"s":20,"x":0.199,"y":4.3},{"s":20,"x":0.2031,"y":4.0},{"s":20,"x":0.2137,"y":3.3},{"s":20,"x":0.2248,"y":2.7},{"s":20,"x":0.2364,"y":2.2},{"s":20,"x":0.2487,"y":1.85},{"s":20,"x":0.2616,"y":1.55},{"s":20,"x":0.2752,"y":1.35},{"s":20,"x":0.3046,"y":1.0},{"s":20,"x":0.337,"y":0.75},{"s":20,"x":0.373,"y":0.52},{"s":20,"x":0.4127,"y":0.35},{"s":20,"x":0.4567,"y":0.22},{"s":20,"x":0.5054,"y":0.13},{"s":20,"x":0.5592,"y":0.07},{"s":20,"x":0.6188,"y":0.04},{"s":20,"x":0.713,"y":0.01},
{"s":21,"x":0.0013,"y":0.1},{"s":21,"x":0.00589,"y":0.11},{"s":21,"x":0.0269,"y":0.12},{"s":21,"x":0.0603,"y":0.14},{"s":21,"x":0.0904,"y":0.12},{"s":21,"x":0.1,"y":0.18},{"s":21,"x":0.1052,"y":0.3},{"s":21,"x":0.1107,"y":0.55},{"s":21,"x":0.1164,"y":1.1},{"s":21,"x":0.12,"y":1.8},{"s":21,"x":0.1224,"y":2.5},{"s":21,"x":0.1249,"y":3.4},{"s":21,"x":0.1288,"y":4.8},{"s":21,"x":0.1314,"y":5.8},{"s":21,"x":0.1355,"y":7.2},{"s":21,"x":0.1382,"y":8.0},{"s":21,"x":0.141,"y":8.7},{"s":21,"x":0.1439,"y":9.0},{"s":21,"x":0.1468,"y":8.5},{"s":21,"x":0.1499,"y":8.0},{"s":21,"x":0.1529,"y":7.6},{"s":21,"x":0.156,"y":7.0},{"s":21,"x":0.1592,"y":6.6},{"s":21,"x":0.1625,"y":6.2},{"s":21,"x":0.1659,"y":5.8},{"s":21,"x":0.1709,"y":5.5},{"s":21,"x":0.1745,"y":5.6},{"s":21,"x":0.1799,"y":5.2},{"s":21,"x":0.1836,"y":4.8},{"s":21,"x":0.1893,"y":4.5},{"s":21,"x":0.1931,"y":4.2},{"s":21,"x":0.199,"y":3.8},{"s":21,"x":0.2031,"y":3.5},{"s":21,"x":0.2137,"y":2.8},{"s":21,"x":0.2248,"y":2.3},{"s":21,"x":0.2364,"y":1.9},{"s":21,"x":0.2487,"y":1.5},{"s":21,"x":0.2616,"y":1.25},{"s":21,"x":0.2752,"y":1.05},{"s":21,"x":0.3046,"y":0.78},{"s":21,"x":0.337,"y":0.56},{"s":21,"x":0.373,"y":0.4},{"s":21,"x":0.4127,"y":0.27},{"s":21,"x":0.4567,"y":0.17},{"s":21,"x":0.5054,"y":0.1},{"s":21,"x":0.5592,"y":0.06},{"s":21,"x":0.6188,"y":0.03},{"s":21,"x":0.713,"y":0.01}
]},
"layer":[
{"mark":{"type":"line","clip":true,"color":"#1a1acc","strokeWidth":0.9,"opacity":0.9},
"encoding":{
"x":{"field":"x","type":"quantitative","scale":{"type":"log","domain":[0.0013,0.713],"nice":false},
"axis":{"orient":"bottom","title":null,"grid":true,"values":[0.002,0.003,0.004,0.005,0.006,0.007,0.008,0.009,0.01,0.02,0.03,0.04,0.05,0.06,0.07,0.08,0.09,0.1,0.2,0.3,0.4,0.5,0.6,0.7],"labelExpr":"datum.value == 0.01 ? '10⁻²' : (datum.value == 0.1 ? '10⁻¹' : '')","tickSize":-4,"labelPadding":12,"labelOverlap":false,"labelFlush":false}},
"y":{"field":"y","type":"quantitative","scale":{"domain":[0,16],"nice":false},
"axis":{"orient":"left","title":null,"grid":true,"values":[0,2,4,6,8,10,12,14,16],"tickSize":-5,"labelPadding":9,"labelOverlap":false,"labelFlush":false}},
"detail":{"field":"s","type":"nominal"}}},
{"mark":{"type":"point","opacity":0},
"encoding":{
"x":{"field":"x","type":"quantitative","axis":{"orient":"top","title":null,"grid":false,"labels":false,"values":[0.002,0.003,0.004,0.005,0.006,0.007,0.008,0.009,0.01,0.02,0.03,0.04,0.05,0.06,0.07,0.08,0.09,0.1,0.2,0.3,0.4,0.5,0.6,0.7],"tickSize":-4}},
"y":{"field":"y","type":"quantitative","axis":{"orient":"right","title":null,"grid":false,"labels":false,"values":[0,2,4,6,8,10,12,14,16],"tickSize":-5}}}}
],
"resolve":{"axis":{"x":"independent","y":"independent"}}
}
